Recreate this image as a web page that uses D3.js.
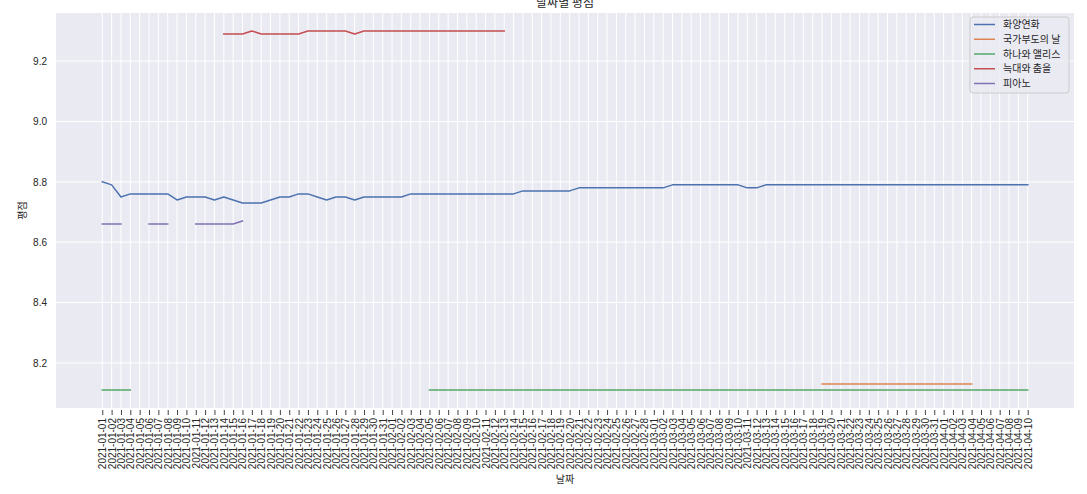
<!DOCTYPE html>
<html><head><meta charset="utf-8">
<script src="https://cdn.jsdelivr.net/npm/d3@7"></script>
<style>html,body{margin:0;padding:0;background:#fff;}svg{display:block;}</style>
</head><body>
<svg id="chart" width="1087" height="494"></svg>
<script>
const title = "날짜별 평점";
const xLabel = "날짜";
const yLabel = "평점";
const yTicks = [8.2, 8.4, 8.6, 8.8, 9.0, 9.2];
const dates = [
"2021-01-01","2021-01-02","2021-01-03","2021-01-04","2021-01-05","2021-01-06","2021-01-07","2021-01-08","2021-01-09","2021-01-10",
"2021-01-11","2021-01-12","2021-01-13","2021-01-14","2021-01-15","2021-01-16","2021-01-17","2021-01-18","2021-01-19","2021-01-20",
"2021-01-21","2021-01-22","2021-01-23","2021-01-24","2021-01-25","2021-01-26","2021-01-27","2021-01-28","2021-01-29","2021-01-30",
"2021-01-31","2021-02-01","2021-02-02","2021-02-03","2021-02-04","2021-02-05","2021-02-06","2021-02-07","2021-02-08","2021-02-09",
"2021-02-10","2021-02-11","2021-02-12","2021-02-13","2021-02-14","2021-02-15","2021-02-16","2021-02-17","2021-02-18","2021-02-19",
"2021-02-20","2021-02-21","2021-02-22","2021-02-23","2021-02-24","2021-02-25","2021-02-26","2021-02-27","2021-02-28","2021-03-01",
"2021-03-02","2021-03-03","2021-03-04","2021-03-05","2021-03-06","2021-03-07","2021-03-08","2021-03-09","2021-03-10","2021-03-11",
"2021-03-12","2021-03-13","2021-03-14","2021-03-15","2021-03-16","2021-03-17","2021-03-18","2021-03-19","2021-03-20","2021-03-21",
"2021-03-22","2021-03-23","2021-03-24","2021-03-25","2021-03-26","2021-03-27","2021-03-28","2021-03-29","2021-03-30","2021-03-31",
"2021-04-01","2021-04-02","2021-04-03","2021-04-04","2021-04-05","2021-04-06","2021-04-07","2021-04-08","2021-04-09","2021-04-10"];

const seriesNames = ["화양연화", "국가부도의 날", "하나와 앨리스", "늑대와 춤을", "피아노"];
const seriesColors = ["#4c72b0", "#dd8452", "#55a868", "#c44e52", "#8172b3"];
const _ = null;
// 화양연화
const hwayang = [
8.80,8.79,8.75,8.76,8.76,8.76,8.76,8.76,8.74,8.75,
8.75,8.75,8.74,8.75,8.74,8.73,8.73,8.73,8.74,8.75,
8.75,8.76,8.76,8.75,8.74,8.75,8.75,8.74,8.75,8.75,
8.75,8.75,8.75,8.76,8.76,8.76,8.76,8.76,8.76,8.76,
8.76,8.76,8.76,8.76,8.76,8.77,8.77,8.77,8.77,8.77,
8.77,8.78,8.78,8.78,8.78,8.78,8.78,8.78,8.78,8.78,
8.78,8.79,8.79,8.79,8.79,8.79,8.79,8.79,8.79,8.78,
8.78,8.79,8.79,8.79,8.79,8.79,8.79,8.79,8.79,8.79,
8.79,8.79,8.79,8.79,8.79,8.79,8.79,8.79,8.79,8.79,
8.79,8.79,8.79,8.79,8.79,8.79,8.79,8.79,8.79,8.79];
// 국가부도의 날
const gukga = [
_,_,_,_,_,_,_,_,_,_,
_,_,_,_,_,_,_,_,_,_,
_,_,_,_,_,_,_,_,_,_,
_,_,_,_,_,_,_,_,_,_,
_,_,_,_,_,_,_,_,_,_,
_,_,_,_,_,_,_,_,_,_,
_,_,_,_,_,_,_,_,_,_,
_,_,_,_,_,_,_,8.13,8.13,8.13,
8.13,8.13,8.13,8.13,8.13,8.13,8.13,8.13,8.13,8.13,
8.13,8.13,8.13,8.13,_,_,_,_,_,_];
// 하나와 앨리스
const hana = [
8.11,8.11,8.11,8.11,_,_,_,_,_,_,
_,_,_,_,_,_,_,_,_,_,
_,_,_,_,_,_,_,_,_,_,
_,_,_,_,_,8.11,8.11,8.11,8.11,8.11,
8.11,8.11,8.11,8.11,8.11,8.11,8.11,8.11,8.11,8.11,
8.11,8.11,8.11,8.11,8.11,8.11,8.11,8.11,8.11,8.11,
8.11,8.11,8.11,8.11,8.11,8.11,8.11,8.11,8.11,8.11,
8.11,8.11,8.11,8.11,8.11,8.11,8.11,8.11,8.11,8.11,
8.11,8.11,8.11,8.11,8.11,8.11,8.11,8.11,8.11,8.11,
8.11,8.11,8.11,8.11,8.11,8.11,8.11,8.11,8.11,8.11];
// 늑대와 춤을
const wolves = [
_,_,_,_,_,_,_,_,_,_,
_,_,_,9.29,9.29,9.29,9.30,9.29,9.29,9.29,
9.29,9.29,9.30,9.30,9.30,9.30,9.30,9.29,9.30,9.30,
9.30,9.30,9.30,9.30,9.30,9.30,9.30,9.30,9.30,9.30,
9.30,9.30,9.30,9.30,_,_,_,_,_,_,
_,_,_,_,_,_,_,_,_,_,
_,_,_,_,_,_,_,_,_,_,
_,_,_,_,_,_,_,_,_,_,
_,_,_,_,_,_,_,_,_,_,
_,_,_,_,_,_,_,_,_,_];
// 피아노
const piano = [
8.66,8.66,8.66,_,_,8.66,8.66,8.66,_,_,
8.66,8.66,8.66,8.66,8.66,8.67,_,_,_,_,
_,_,_,_,_,_,_,_,_,_,
_,_,_,_,_,_,_,_,_,_,
_,_,_,_,_,_,_,_,_,_,
_,_,_,_,_,_,_,_,_,_,
_,_,_,_,_,_,_,_,_,_,
_,_,_,_,_,_,_,_,_,_,
_,_,_,_,_,_,_,_,_,_,
_,_,_,_,_,_,_,_,_,_];

const seriesValues = [hwayang, gukga, hana, wolves, piano];

const svg = d3.select("#chart");
const plot = {left: 56, right: 1074, top: 13, bottom: 408};
const numFont = "'Liberation Sans', Arial, sans-serif";
const korFont = "'Noto Sans CJK KR', 'Noto Sans', sans-serif";
const textColor = "#262626";

const allVals = seriesValues.flat().filter(v => v != null);
const yMin = d3.min(allVals), yMax = d3.max(allVals);
const yPad = (yMax - yMin) * 0.05;
const y = d3.scaleLinear().domain([yMin - yPad, yMax + yPad]).range([plot.bottom, plot.top]);
const n = dates.length;
const xPad = (n - 1) * 0.05;
const x = d3.scaleLinear().domain([-xPad, n - 1 + xPad]).range([plot.left, plot.right]);

// background
svg.append("rect").attr("x", plot.left).attr("y", plot.top)
  .attr("width", plot.right - plot.left).attr("height", plot.bottom - plot.top)
  .attr("fill", "#eaeaf2");

// grid
const grid = svg.append("g");
grid.selectAll("line.h").data(yTicks).join("line")
  .attr("x1", plot.left).attr("x2", plot.right)
  .attr("y1", d => y(d)).attr("y2", d => y(d))
  .attr("stroke", "#fff").attr("stroke-width", 1);
grid.selectAll("line.v").data(dates).join("line")
  .attr("x1", (d, i) => x(i)).attr("x2", (d, i) => x(i))
  .attr("y1", plot.top).attr("y2", plot.bottom)
  .attr("stroke", "#fff").attr("stroke-width", 1);

// y axis labels
const yAxis = d3.axisLeft(y).tickValues(yTicks).tickFormat(d3.format(".1f")).tickSize(0).tickPadding(9);
const gy = svg.append("g").attr("transform", `translate(${plot.left},0)`).call(yAxis);
gy.select(".domain").remove();
gy.selectAll("text").attr("font-family", numFont).attr("font-size", 10).attr("fill", textColor);

// x axis
const xAxis = d3.axisBottom(x).tickValues(d3.range(n)).tickFormat(i => dates[i]).tickSize(5).tickPadding(4);
const gx = svg.append("g").attr("transform", `translate(0,${plot.bottom + 2})`).call(xAxis);
gx.select(".domain").remove();
gx.selectAll(".tick line").attr("stroke", "#444").attr("stroke-width", 1);
gx.selectAll("text")
  .attr("font-family", numFont).attr("font-size", 10).attr("fill", textColor)
  .attr("transform", "rotate(-90)")
  .attr("x", -8).attr("y", 0).attr("dy", "0.35em")
  .style("text-anchor", "end");

// lines
const line = d3.line().defined(d => d != null).x((d, i) => x(i)).y(d => y(d));
seriesValues.forEach((vals, k) => {
  svg.append("path").datum(vals)
    .attr("d", line)
    .attr("fill", "none")
    .attr("stroke", seriesColors[k])
    .attr("stroke-width", 1.5)
    .attr("stroke-linejoin", "round")
    .attr("stroke-linecap", "square");
});

// title and axis labels
svg.append("text").attr("x", (plot.left + plot.right) / 2).attr("y", 7)
  .attr("text-anchor", "middle").attr("font-family", korFont).attr("font-size", 12)
  .attr("fill", textColor).text(title);
svg.append("text").attr("x", (plot.left + plot.right) / 2).attr("y", 483)
  .attr("text-anchor", "middle").attr("font-family", korFont).attr("font-size", 10)
  .attr("fill", textColor).text(xLabel);
svg.append("text").attr("transform", `translate(26,${(plot.top + plot.bottom) / 2}) rotate(-90)`)
  .attr("text-anchor", "middle").attr("font-family", korFont).attr("font-size", 10)
  .attr("fill", textColor).text(yLabel);

// legend
const lg = svg.append("g").attr("transform", "translate(970,17)");
lg.append("rect").attr("x", 0).attr("y", 0).attr("width", 99).attr("height", 76)
  .attr("rx", 3).attr("ry", 3)
  .attr("fill", "#eaeaf2").attr("fill-opacity", 0.8)
  .attr("stroke", "#cccccc").attr("stroke-width", 1);
seriesNames.forEach((name, k) => {
  const cy = 7.5 + k * 14.75;
  lg.append("line").attr("x1", 4).attr("x2", 25).attr("y1", cy).attr("y2", cy)
    .attr("stroke", seriesColors[k]).attr("stroke-width", 1.5);
  lg.append("text").attr("x", 33).attr("y", cy).attr("dy", "0.35em")
    .attr("font-family", korFont).attr("font-size", 10).attr("fill", textColor)
    .text(name);
});
</script>
</body></html>
